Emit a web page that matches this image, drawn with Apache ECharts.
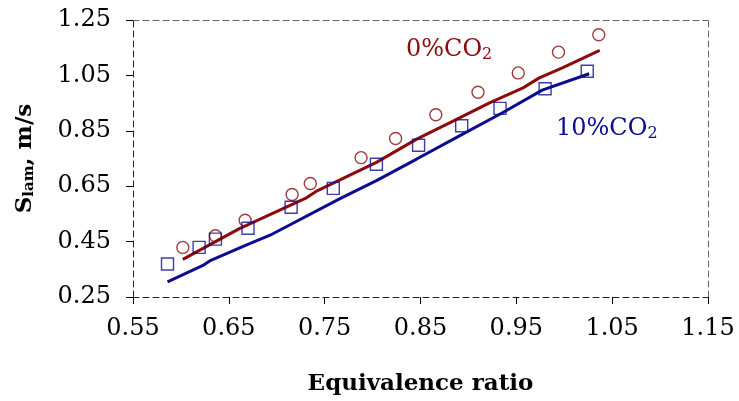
<!DOCTYPE html>
<html>
<head>
<meta charset="utf-8">
<script src="https://cdn.jsdelivr.net/npm/echarts@6/dist/echarts.min.js"></script>
<style>html,body{margin:0;padding:0;background:#fff}#c{width:739px;height:401px}</style>
</head>
<body>
<div id="c"></div>
<script>
// Measured points (open circles: 0% CO2, squares: 10% CO2)
var phi0 = [0.602, 0.636, 0.667, 0.716, 0.735, 0.788, 0.824, 0.866, 0.910, 0.952, 0.994, 1.036];
var sl0  = [0.429, 0.471, 0.527, 0.620, 0.660, 0.753, 0.822, 0.908, 0.989, 1.059, 1.134, 1.197];
var phi10 = [0.586, 0.619, 0.636, 0.670, 0.715, 0.759, 0.804, 0.848, 0.893, 0.933, 0.980, 1.024];
var sl10  = [0.369, 0.429, 0.459, 0.498, 0.574, 0.642, 0.729, 0.798, 0.868, 0.931, 1.002, 1.065];
// Computed curves
var phiLine0 = [0.602, 0.661, 0.731, 0.741, 0.804, 0.846, 0.884, 0.922, 0.957, 0.974, 0.998, 1.037];
var slLine0  = [0.386, 0.497, 0.608, 0.631, 0.736, 0.820, 0.885, 0.951, 1.005, 1.041, 1.077, 1.140];
var phiLine10 = [0.586, 0.623, 0.630, 0.668, 0.693, 0.766, 0.804, 0.846, 0.894, 0.936, 0.977, 1.026];
var slLine10  = [0.305, 0.364, 0.380, 0.437, 0.473, 0.605, 0.670, 0.748, 0.838, 0.916, 0.997, 1.056];
// Tick labels
var xTicks = [0.55, 0.65, 0.75, 0.85, 0.95, 1.05, 1.15];
var yTicks = [0.25, 0.45, 0.65, 0.85, 1.05, 1.25];

function pairs(xs, ys) { return xs.map(function (x, i) { return [x, ys[i]]; }); }

var RED = '#8c0a0a', BLUE = '#0c0c8e';
var FONT = 'DejaVu Serif';

var chart = echarts.init(document.getElementById('c'), null, { renderer: 'canvas' });
chart.setOption({
  animation: false,
  backgroundColor: '#fff',
  grid: { left: 133, right: 31, top: 20, bottom: 102, containLabel: false },
  xAxis: [{
    type: 'value', min: 0.55, max: 1.15,
    name: 'Equivalence ratio', nameLocation: 'middle', nameGap: 76,
    nameTextStyle: { fontFamily: FONT, fontWeight: 'bold', fontSize: 23, color: '#000' },
    axisLine: { lineStyle: { color: '#222', type: [6, 4], width: 1 } },
    axisTick: { show: true, inside: false, length: 7, customValues: xTicks, lineStyle: { color: '#000' } },
    axisLabel: { customValues: xTicks, margin: 20, fontFamily: FONT, fontSize: 24, color: '#000',
      formatter: function (v) { return v.toFixed(2); } },
    splitLine: { show: false }
  }, {
    type: 'value', position: 'top', min: 0.55, max: 1.15,
    axisLine: { show: true, lineStyle: { color: '#666', type: [6, 4], width: 1 } },
    axisTick: { show: false }, axisLabel: { show: false }, splitLine: { show: false }
  }],
  yAxis: [{
    type: 'value', min: 0.25, max: 1.25,
    name: '{b|S}{s|lam}{b|, m/s}', nameLocation: 'middle', nameGap: 96, nameRotate: 90,
    nameTextStyle: {
      rich: {
        b: { fontFamily: FONT, fontWeight: 'bold', fontSize: 23, color: '#000' },
        s: { fontFamily: FONT, fontWeight: 'bold', fontSize: 15, color: '#000', padding: [7, 0, 0, 0] }
      }
    },
    axisLine: { show: true, lineStyle: { color: '#222', type: [6, 4], width: 1 } },
    axisTick: { show: true, inside: false, length: 7, customValues: yTicks, lineStyle: { color: '#000' } },
    axisLabel: { customValues: yTicks, margin: 22, fontFamily: FONT, fontSize: 24, color: '#000',
      formatter: function (v) { return v.toFixed(2); } },
    splitLine: { show: false }
  }, {
    type: 'value', position: 'right', min: 0.25, max: 1.25,
    axisLine: { show: true, lineStyle: { color: '#666', type: [6, 4], width: 1 } },
    axisTick: { show: false }, axisLabel: { show: false }, splitLine: { show: false }
  }],
  series: [
    { type: 'line', data: pairs(phiLine0, slLine0), showSymbol: false, symbol: 'none',
      lineStyle: { color: RED, width: 3 }, z: 2 },
    { type: 'line', data: pairs(phiLine10, slLine10), showSymbol: false, symbol: 'none',
      lineStyle: { color: BLUE, width: 3 }, z: 2 },
    { type: 'scatter', data: pairs(phi0, sl0), symbol: 'circle', symbolSize: 12,
      itemStyle: { color: 'rgba(0,0,0,0)', borderColor: RED, borderWidth: 1.4 }, z: 3 },
    { type: 'scatter', data: pairs(phi10, sl10), symbol: 'rect', symbolSize: 12,
      itemStyle: { color: 'rgba(0,0,0,0)', borderColor: BLUE, borderWidth: 1.4 }, z: 3 }
  ],
  graphic: [
    { type: 'text', left: 406, top: 38, z: 10,
      style: { text: '{m|0%CO}{s|2}', rich: {
        m: { fontFamily: FONT, fontSize: 24, fill: RED },
        s: { fontFamily: FONT, fontSize: 16, fill: RED, padding: [10, 0, 0, 0] } } } },
    { type: 'text', left: 556, top: 117, z: 10,
      style: { text: '{m|10%CO}{s|2}', rich: {
        m: { fontFamily: FONT, fontSize: 24, fill: BLUE },
        s: { fontFamily: FONT, fontSize: 16, fill: BLUE, padding: [10, 0, 0, 0] } } } }
  ]
});
</script>
</body>
</html>
